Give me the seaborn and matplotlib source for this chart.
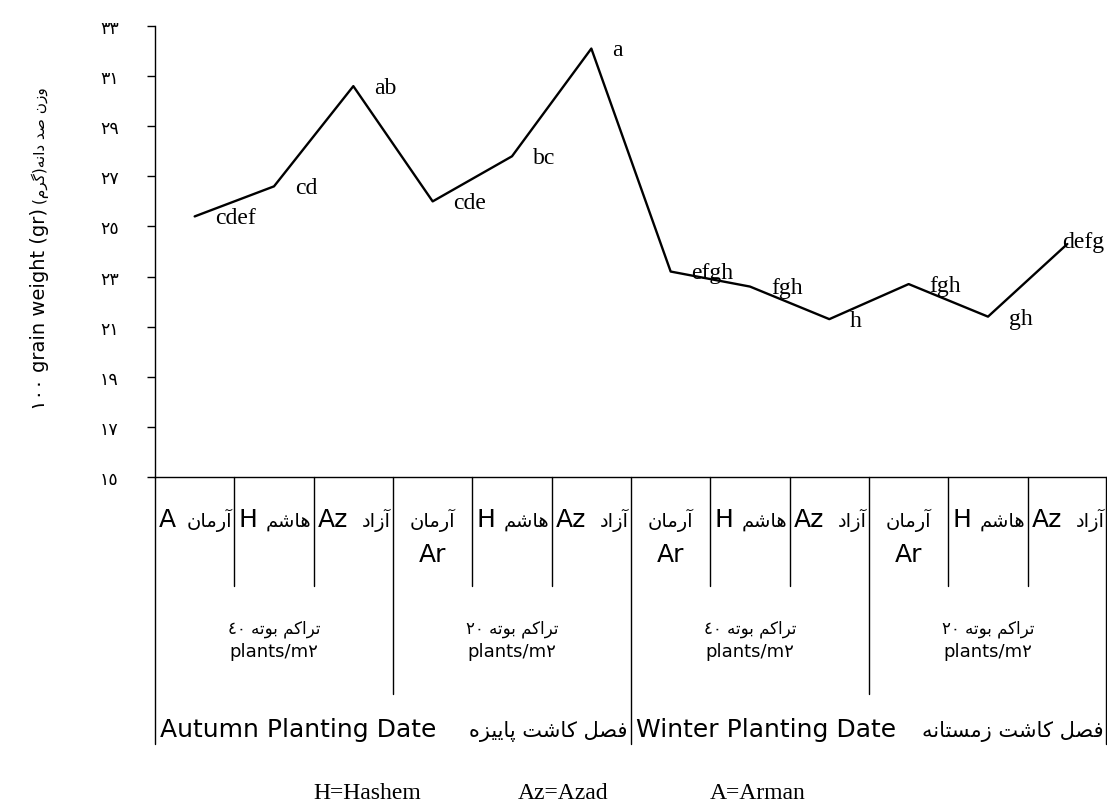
import pandas as pd
import seaborn as sns
import matplotlib.pyplot as plt

# ---- data ----
cell_codes = ['A', 'H', 'Az', 'Ar', 'H', 'Az', 'Ar', 'H', 'Az', 'Ar', 'H', 'Az']
cell_names_fa = ['آرمان', 'هاشم', 'آزاد'] * 4
densities_fa = ['تراکم بوته ٤٠', 'تراکم بوته ٢٠', 'تراکم بوته ٤٠', 'تراکم بوته ٢٠']
density_unit = 'plants/m٢'
seasons = ['Autumn Planting Date', 'Winter Planting Date']
seasons_fa = ['فصل کاشت پاییزه', 'فصل کاشت زمستانه']
grain_weight = [25.4, 26.6, 30.6, 26.0, 27.8, 32.1, 23.2, 22.6, 21.3, 22.7, 21.4, 24.3]
letters = ['cdef', 'cd', 'ab', 'cde', 'bc', 'a', 'efgh', 'fgh', 'h', 'fgh', 'gh', 'defg']
y_ticks = [15, 17, 19, 21, 23, 25, 27, 29, 31, 33]
y_tick_labels = ['١٥', '١٧', '١٩', '٢١', '٢٣', '٢٥', '٢٧', '٢٩', '٣١', '٣٣']
ylabel_en = '١٠٠ grain weight (gr)'
ylabel_fa = 'وزن صد دانه(گرم)'
legend_items = ['H=Hashem', 'Az=Azad', 'A=Arman']

# ---- minimal persian shaping (matplotlib has no bidi / joining) ----
FORMS = {
    'آ': ('\uFE81', '\uFE82'), 'ا': ('\uFE8D', '\uFE8E'), 'د': ('\uFEA9', '\uFEAA'),
    'ر': ('\uFEAD', '\uFEAE'), 'ز': ('\uFEAF', '\uFEB0'), 'و': ('\uFEED', '\uFEEE'),
    'ب': ('\uFE8F', '\uFE90', '\uFE91', '\uFE92'), 'پ': ('\uFB56', '\uFB57', '\uFB58', '\uFB59'),
    'ت': ('\uFE95', '\uFE96', '\uFE97', '\uFE98'), 'س': ('\uFEB1', '\uFEB2', '\uFEB3', '\uFEB4'),
    'ش': ('\uFEB5', '\uFEB6', '\uFEB7', '\uFEB8'), 'ص': ('\uFEB9', '\uFEBA', '\uFEBB', '\uFEBC'),
    'ف': ('\uFED1', '\uFED2', '\uFED3', '\uFED4'), 'ک': ('\uFB8E', '\uFB8F', '\uFB90', '\uFB91'),
    'گ': ('\uFB92', '\uFB93', '\uFB94', '\uFB95'), 'ل': ('\uFEDD', '\uFEDE', '\uFEDF', '\uFEE0'),
    'م': ('\uFEE1', '\uFEE2', '\uFEE3', '\uFEE4'), 'ن': ('\uFEE5', '\uFEE6', '\uFEE7', '\uFEE8'),
    'ه': ('\uFEE9', '\uFEEA', '\uFEEB', '\uFEEC'), 'ی': ('\uFBFC', '\uFBFD', '\uFBFE', '\uFBFF'),
}


def fa(text):
    out = []
    for i, ch in enumerate(text):
        if ch not in FORMS:
            out.append(ch)
            continue
        prev = text[i - 1] if i > 0 else ''
        nxt = text[i + 1] if i + 1 < len(text) else ''
        p = prev in FORMS and len(FORMS[prev]) == 4
        n = nxt in FORMS and len(FORMS[ch]) == 4
        f = FORMS[ch]
        if p and n:
            out.append(f[3])
        elif n:
            out.append(f[2])
        elif p:
            out.append(f[1])
        else:
            out.append(f[0])
    vis = out[::-1]
    vis = [{'(': ')', ')': '('}.get(c, c) for c in vis]
    # digit runs keep left-to-right order
    res, run = [], []
    for c in vis:
        if c.isdigit():
            run.append(c)
        else:
            res.extend(run[::-1])
            run = []
            res.append(c)
    res.extend(run[::-1])
    return ''.join(res)


treatments = [f'{i}-{c}' for i, c in enumerate(cell_codes)]
df = pd.DataFrame({'treatment': treatments, 'weight': grain_weight})

sns.set_style('white')
plt.rcParams['font.family'] = ['DejaVu Sans']
plt.rcParams['text.color'] = 'black'
plt.rcParams['ytick.color'] = 'black'
plt.rcParams['axes.labelcolor'] = 'black'

fig = plt.figure(figsize=(11.07, 8.03), dpi=100)
ax = fig.add_axes([155 / 1107, 1 - 478 / 803, 952 / 1107, 451 / 803])

sns.lineplot(data=df, x='treatment', y='weight', sort=False, color='black', lw=1.7, ax=ax)

ax.set_xlim(-0.5, 11.5)
ax.set_ylim(15, 33)
ax.set_yticks(y_ticks)
ax.set_yticklabels(y_tick_labels, fontsize=12.5, color='black')
ax.tick_params(axis='y', direction='out', length=6, width=1, color='black', pad=20, left=True)
ax.set_xticks([])
ax.set_xlabel('')
ax.set_ylabel('')
for s in ['top', 'right']:
    ax.spines[s].set_visible(False)
for s in ['left', 'bottom']:
    ax.spines[s].set_color('black')
    ax.spines[s].set_linewidth(1)

# significance letters
for i, (v, lab) in enumerate(zip(grain_weight, letters)):
    off = (-4, 2) if i == len(letters) - 1 else (15, -1)
    ax.annotate(lab, (i, v), xytext=off, textcoords='offset points', ha='left', va='center',
                fontsize=17, family='Liberation Serif', color='black', annotation_clip=False)

# table under the axis
xt = ax.get_xaxis_transform()
kw = dict(color='black', lw=1, transform=xt, clip_on=False)
for b in [0.5, 1.5, 3.5, 4.5, 6.5, 7.5, 9.5, 10.5]:
    ax.plot([b, b], [0, -0.2417], **kw)
for b in [2.5, 8.5]:
    ax.plot([b, b], [0, -0.481], **kw)
for b in [-0.5, 5.5, 11.49]:
    ax.plot([b, b], [0, -0.592], **kw)

row1, row2 = -0.1086, -0.1863
for i, (code, name) in enumerate(zip(cell_codes, cell_names_fa)):
    if code == 'Ar':
        ax.text(i, row1, fa(name), ha='center', va='baseline', fontsize=14, transform=xt)
        ax.text(i, row2, code, ha='center', va='baseline', fontsize=18, transform=xt)
    else:
        ax.text(i - 0.45, row1, code, ha='left', va='baseline', fontsize=18, transform=xt)
        ax.text(i + 0.47, row1, fa(name), ha='right', va='baseline', fontsize=14, transform=xt)

for g, dens in enumerate(densities_fa):
    cx = g * 3 + 1
    ax.text(cx, -0.3437, fa(dens), ha='center', va='baseline', fontsize=12, transform=xt)
    ax.text(cx, -0.397, density_unit, ha='center', va='baseline', fontsize=13, transform=xt)

for k, (s_en, s_fa) in enumerate(zip(seasons, seasons_fa)):
    left = k * 6 - 0.5
    ax.text(left + 0.06, -0.574, s_en, ha='left', va='baseline', fontsize=18, transform=xt)
    ax.text(left + 5.96, -0.574, fa(s_fa), ha='right', va='baseline', fontsize=15, transform=xt)

# y label (english + persian parts)
fig.text(40 / 1107, 1 - 410 / 803, ylabel_en, rotation=90, ha='center', va='bottom', fontsize=14)
fig.text(40 / 1107, 1 - 204 / 803, fa(ylabel_fa), rotation=90, ha='center', va='bottom', fontsize=11)

# abbreviations
for x0, item in zip([313, 518, 710], legend_items):
    fig.text(x0 / 1107, 3.5 / 803, item, ha='left', va='baseline', fontsize=17,
             family='Liberation Serif')

fig.savefig('out.png', dpi=100)
